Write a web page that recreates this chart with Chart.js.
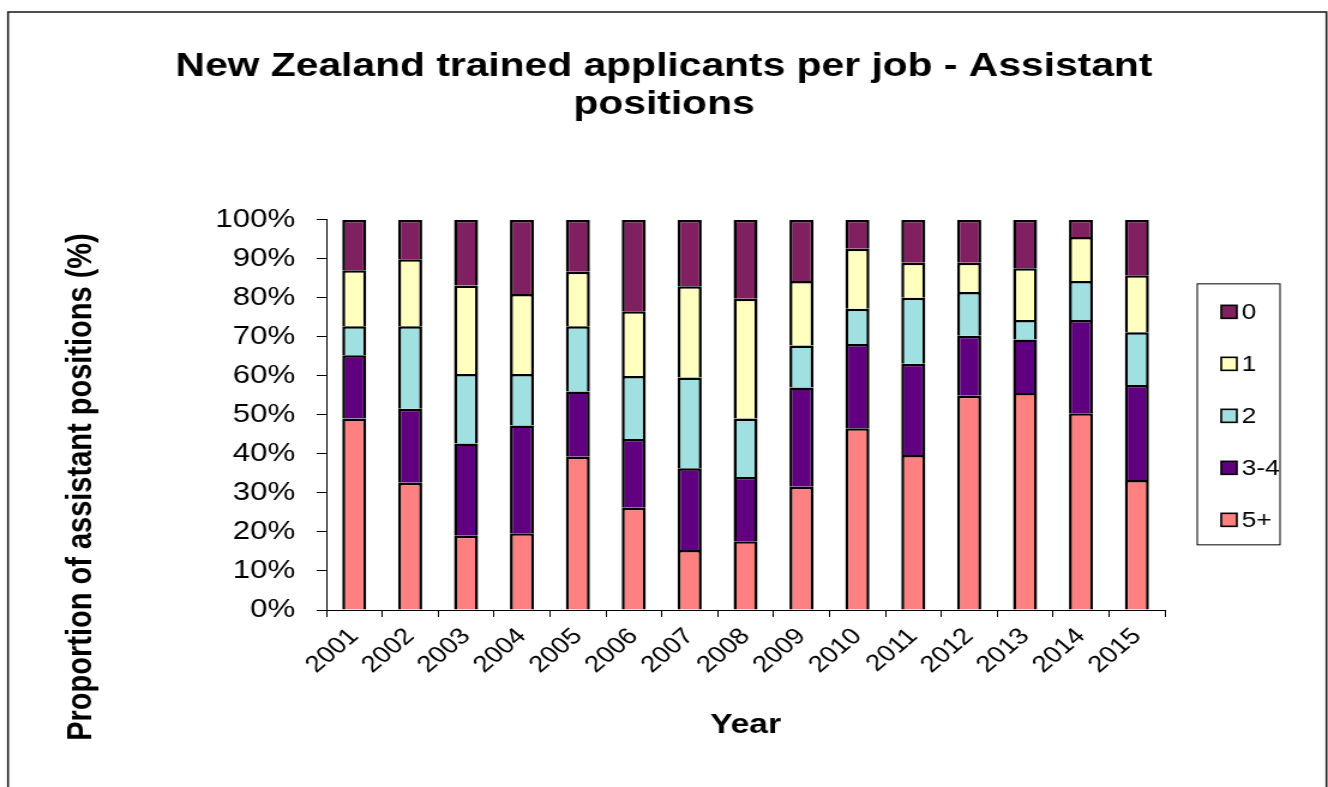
<!DOCTYPE html>
<html>
<head>
<meta charset="utf-8">
<title>New Zealand trained applicants per job - Assistant positions</title>
<script src="https://cdn.jsdelivr.net/npm/chart.js@4"></script>
<style>
  body { margin: 0; background: #fff; }
</style>
</head>
<body>
<!-- drawn 1107 wide and shown 1328 wide, like the stretched original -->
<canvas id="chart" width="1107" height="787" style="display:block;width:1328px;height:787px"></canvas>
<script>
// years on the x axis
const years = ["2001", "2002", "2003", "2004", "2005", "2006", "2007", "2008",
               "2009", "2010", "2011", "2012", "2013", "2014", "2015"];

// share of assistant positions (%) by number of NZ trained applicants
const fivePlus  = [49.1, 32.6, 19.0, 19.7, 39.3, 26.2, 15.4, 17.6, 31.6, 46.6, 39.7, 54.9, 55.6, 50.4, 33.3];
const threeFour = [16.2, 19.0, 23.7, 27.6, 16.7, 17.6, 20.9, 16.5, 25.4, 21.6, 23.4, 15.4, 13.7, 23.9, 24.4];
const two       = [7.4, 21.1, 17.8, 13.2, 16.7, 16.2, 23.3, 15.0, 10.8, 9.0, 16.9, 11.2, 5.0, 10.0, 13.5];
const one       = [14.4, 17.2, 22.7, 20.5, 14.0, 16.6, 23.4, 30.7, 16.5, 15.4, 9.0, 7.5, 13.3, 11.3, 14.6];
const zero      = [12.9, 10.1, 16.8, 19.0, 13.3, 23.4, 17.0, 20.2, 15.7, 7.4, 11.0, 11.0, 12.4, 4.4, 14.2];

const yTicks = [0, 10, 20, 30, 40, 50, 60, 70, 80, 90, 100];

const FONT = '"Liberation Sans", Arial, sans-serif';

// outer frame of the chart
const frame = {
    id: "frame",
    beforeDraw(chart) {
        const ctx = chart.ctx;
        ctx.save();
        ctx.fillStyle = "#fff";
        ctx.fillRect(0, 0, chart.width, chart.height);
        ctx.strokeStyle = "#222";
        ctx.lineWidth = 1.6;
        ctx.strokeRect(6.7, 12, 1099, 820);
        ctx.restore();
    }
};

// y axis title, placed like the original (lower than the plot centre)
const yTitle = {
    id: "yTitle",
    afterDraw(chart) {
        const ctx = chart.ctx;
        ctx.save();
        ctx.translate(67.5, 487);
        ctx.rotate(-Math.PI / 2);
        ctx.font = "bold 29px " + FONT;
        ctx.fillStyle = "#000";
        ctx.textAlign = "center";
        ctx.textBaseline = "middle";
        ctx.fillText("Proportion of assistant positions (%)", 0, 0);
        ctx.restore();
    }
};

// legend with a box round it, 0 on top down to 5+
const boxedLegend = {
    id: "boxedLegend",
    afterDraw(chart) {
        const { ctx, chartArea } = chart;
        const left = chartArea.right + 27;
        const top = chartArea.top + 64;
        ctx.save();
        ctx.strokeStyle = "#000";
        ctx.lineWidth = 1;
        ctx.strokeRect(left, top, 69, 261);
        ctx.font = "22px " + FONT;
        ctx.textBaseline = "middle";
        const items = chart.data.datasets.slice().reverse();
        items.forEach((ds, i) => {
            const y = top + 28 + i * 52;
            ctx.fillStyle = ds.backgroundColor;
            ctx.fillRect(left + 20, y - 6.5, 13, 13);
            ctx.lineWidth = 1.6;
            ctx.strokeStyle = "#000";
            ctx.strokeRect(left + 20, y - 6.5, 13, 13);
            ctx.fillStyle = "#000";
            ctx.fillText(ds.label, left + 37, y + 1);
        });
        ctx.restore();
    }
};

const ctx = document.getElementById("chart").getContext("2d");

new Chart(ctx, {
    type: "bar",
    data: {
        labels: years,
        datasets: [
            { label: "5+",  data: fivePlus,  backgroundColor: "#FF8080" },
            { label: "3-4", data: threeFour, backgroundColor: "#600080" },
            { label: "2",   data: two,       backgroundColor: "#A0E0E0" },
            { label: "1",   data: one,       backgroundColor: "#FFFFC0" },
            { label: "0",   data: zero,      backgroundColor: "#802060" }
        ].map(ds => Object.assign(ds, {
            borderColor: "#000",
            borderWidth: 2.5,
            barPercentage: 0.43,
            categoryPercentage: 1.0
        }))
    },
    options: {
        responsive: false,
        animation: false,
        devicePixelRatio: 1,
        // same padding both sides so the title stays centred on the whole frame
        layout: { padding: { left: 136, right: 136, top: 0, bottom: 0 } },
        plugins: {
            legend: { display: false },
            tooltip: { enabled: false },
            title: {
                display: true,
                text: ["New Zealand trained applicants per job - Assistant", "positions"],
                color: "#000",
                font: { family: FONT, size: 34, weight: "bold", lineHeight: 1.13 },
                padding: { top: 47, bottom: 96 }
            }
        },
        scales: {
            x: {
                stacked: true,
                grid: { offset: true, drawOnChartArea: false, color: "#000", tickLength: 7 },
                border: { color: "#000", width: 1 },
                ticks: {
                    color: "#000",
                    font: { family: FONT, size: 23 },
                    minRotation: 45,
                    maxRotation: 45,
                    autoSkip: false,
                    padding: 6,
                    labelOffset: 0
                },
                title: {
                    display: true,
                    text: "Year",
                    color: "#000",
                    font: { family: FONT, size: 28, weight: "bold" },
                    padding: { top: 0, bottom: 45 }
                },
                afterFit(scale) { scale.height = 177; }
            },
            y: {
                stacked: true,
                min: 0,
                max: 100,
                afterBuildTicks(scale) { scale.ticks = yTicks.map(v => ({ value: v })); },
                grid: { drawOnChartArea: false, color: "#000", tickLength: 8 },
                border: { color: "#000", width: 1 },
                ticks: {
                    color: "#000",
                    font: { family: FONT, size: 26 },
                    padding: 18,
                    callback: v => v + "%"
                },
                afterFit(scale) { scale.width = 136; }
            }
        }
    },
    plugins: [frame, yTitle, boxedLegend]
});
</script>
</body>
</html>
